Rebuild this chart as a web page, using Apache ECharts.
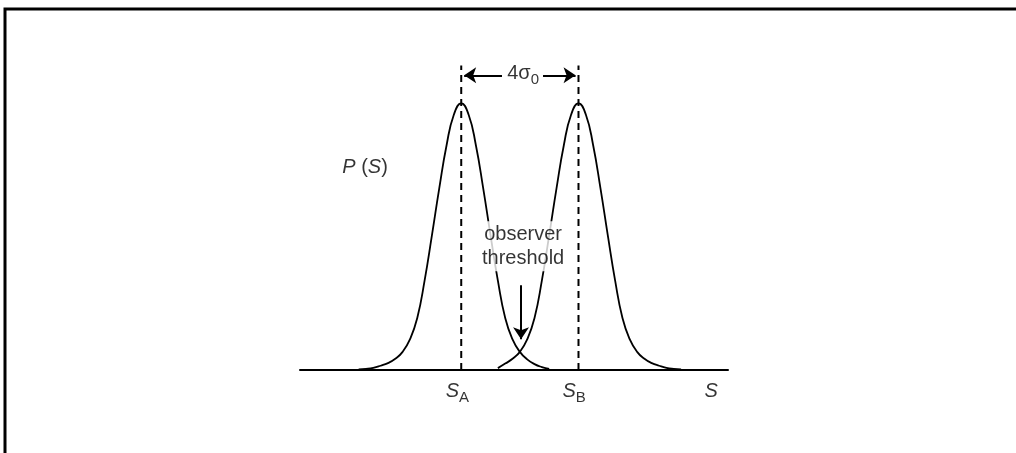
<!DOCTYPE html>
<html>
<head>
<meta charset="utf-8">
<script src="https://cdn.jsdelivr.net/npm/echarts@6/dist/echarts.min.js"></script>
<style>
html,body{margin:0;padding:0;background:#fff;overflow:hidden;}
#chart{width:1016px;height:453px;}
</style>
</head>
<body>
<div id="chart"></div>
<script>
// Positions in units of sigma0
var centerA = 5.5;
var centerB = 9.5;
// Curve A: [S, P(S)] (peak normalised to 1)
var curveA = [
  [2.0,0.002],[2.25,0.004],[2.5,0.008],[2.75,0.016],[3.0,0.026],[3.25,0.042],
  [3.5,0.068],[3.75,0.115],[4.0,0.195],[4.25,0.335],[4.5,0.505],[4.75,0.681],
  [5.0,0.843],[5.25,0.958],[5.5,1.0],[5.75,0.958],[6.0,0.843],[6.25,0.681],
  [6.5,0.505],[6.75,0.335],[7.0,0.195],[7.25,0.115],[7.5,0.068],[7.75,0.040],
  [8.0,0.022],[8.25,0.011],[8.5,0.004]
];
// Curve B
var curveB = [
  [6.75,0.007],[7.0,0.024],[7.25,0.042],[7.5,0.068],
  [7.75,0.115],[8.0,0.195],[8.25,0.335],[8.5,0.505],[8.75,0.681],[9.0,0.843],
  [9.25,0.958],[9.5,1.0],[9.75,0.958],[10.0,0.843],[10.25,0.681],
  [10.5,0.505],[10.75,0.335],[11.0,0.195],[11.25,0.115],[11.5,0.068],[11.75,0.042],
  [12.0,0.026],[12.25,0.016],[12.5,0.008],[12.75,0.004],[13.0,0.002]
];
var dashTop = 1.142;
var spanArrowY = 1.105;
var spanLeftArrow = [6.89, 5.6];
var spanRightArrow = [8.29, 9.4];
var thresholdX = 7.54;
var thresholdArrow = [0.318, 0.115];
var labels = [
  {name:'4σ0', pos:[7.61,1.112], text:'{n|4σ}{sub|0}'},
  {name:'P(S)', pos:[2.22,0.76], text:'{it|P}{n| (}{it|S}{n|)}'},
  {name:'threshold', pos:[7.61,0.464], text:'{n|observer}\n{n|threshold}'},
  {name:'SA', pos:[5.37,-0.082], text:'{it|S}{sub|A}'},
  {name:'SB', pos:[9.35,-0.082], text:'{it|S}{sub|B}'},
  {name:'S', pos:[14.03,-0.082], text:'{it|S}'}
];
</script>
<script>
var FONT = '"Liberation Sans", Arial, Helvetica, sans-serif';
var INK = '#000';
var chart = echarts.init(document.getElementById('chart'), null, {renderer:'canvas'});
var rich = {
  n:{fontSize:20, fontFamily:FONT, color:INK, lineHeight:24},
  it:{fontSize:20, fontFamily:FONT, fontStyle:'italic', color:INK, lineHeight:24},
  sub:{fontSize:15, fontFamily:FONT, color:INK, lineHeight:24, padding:[12,0,0,0]}
};
var option = {
  animation:false,
  backgroundColor:'#fff',
  grid:{left:300, right:288, top:50, bottom:83},
  xAxis:{type:'value', min:0, max:14.6,
    axisLine:{show:true, onZero:false, lineStyle:{color:'#000', width:2}},
    axisTick:{show:false}, axisLabel:{show:false}, splitLine:{show:false}},
  yAxis:{type:'value', min:0, max:1.2, show:false},
  graphic:[{type:'polyline', shape:{points:[[5,460],[5,9],[1030,9]]},
    style:{fill:null, stroke:'#000', lineWidth:3}, silent:true}],
  series:[
    {type:'line', data:curveA, showSymbol:false, smooth:0.5, clip:false,
      lineStyle:{color:'#000', width:1.8}},
    {type:'line', data:curveB, showSymbol:false, smooth:0.5, clip:false,
      lineStyle:{color:'#000', width:1.8}},
    {type:'line', data:[[centerA,0],[centerA,dashTop]], showSymbol:false, clip:false,
      lineStyle:{color:'#000', width:2, type:[7,5]}},
    {type:'line', data:[[centerB,0],[centerB,dashTop]], showSymbol:false, clip:false,
      lineStyle:{color:'#000', width:2, type:[7,5]},
      markLine:{silent:true, symbol:['none','arrow'], symbolSize:12, label:{show:false},
        lineStyle:{color:'#000', width:2, type:'solid'},
        data:[
          [{coord:[spanLeftArrow[0],spanArrowY]},{coord:[spanLeftArrow[1],spanArrowY]}],
          [{coord:[spanRightArrow[0],spanArrowY]},{coord:[spanRightArrow[1],spanArrowY]}],
          [{coord:[thresholdX,thresholdArrow[0]]},{coord:[thresholdX,thresholdArrow[1]]}]
        ]}},
    {type:'scatter', symbolSize:0, clip:false, silent:true, z:10, zlevel:1,
      data:labels.map(function(l){
        var item = {value:l.pos, name:l.name};
        if (l.name === 'threshold') item.label = {backgroundColor:'#fff', padding:[1,1,1,1]};
        return item;
      }),
      label:{show:true, position:'inside', align:'center', verticalAlign:'middle',
        formatter:function(p){return labels[p.dataIndex].text;}, rich:rich}}
  ]
};
chart.setOption(option);
</script>
</body>
</html>
